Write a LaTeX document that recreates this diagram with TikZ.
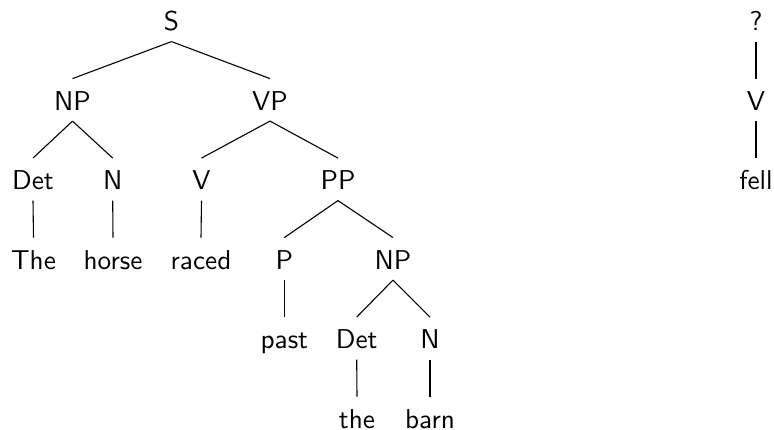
\documentclass[tikz,border=0pt]{standalone}
\begin{document}
\begin{tikzpicture}[x=0.367pt,y=-0.367pt,
  lab/.style={anchor=base,inner sep=0pt,text height=11.4pt,text depth=3.8pt,font=\sffamily},
  edge/.style={draw=black,line width=0.4pt}]
\useasboundingbox (0,0) rectangle (774,430);
% left tree
\node[lab] (S) at (171.5,30.7) {S};
\node[lab] (NPa) at (72.5,110.2) {NP};
\node[lab] (VP) at (270,110.2) {VP};
\node[lab] (Deta) at (33,189.7) {Det};
\node[lab] (Na) at (112.7,189.7) {N};
\node[lab] (Va) at (201.5,189.7) {V};
\node[lab] (PP) at (338,189.7) {PP};
\node[lab] (The) at (33.5,269.2) {The};
\node[lab] (horse) at (113,269.2) {horse};
\node[lab] (raced) at (201,269.2) {raced};
\node[lab] (P) at (284.3,269.2) {P};
\node[lab] (NPb) at (393,269.2) {NP};
\node[lab] (past) at (284.3,348.7) {past};
\node[lab] (Detb) at (356.7,348.7) {Det};
\node[lab] (Nb) at (430,348.7) {N};
\node[lab] (the) at (357,428.2) {the};
\node[lab] (barn) at (430,428.2) {barn};
% right tree
\node[lab] (Q) at (756,30.7) {?};
\node[lab] (Vb) at (756,110.2) {V};
\node[lab] (fell) at (756,189.7) {fell};
% edges
\draw[edge] (S.south) -- (NPa.north);
\draw[edge] (S.south) -- (VP.north);
\draw[edge] (NPa.south) -- (Deta.north);
\draw[edge] (NPa.south) -- (Na.north);
\draw[edge] (VP.south) -- (Va.north);
\draw[edge] (VP.south) -- (PP.north);
\draw[edge] (Deta.south) -- (The.north);
\draw[edge] (Na.south) -- (horse.north);
\draw[edge] (Va.south) -- (raced.north);
\draw[edge] (PP.south) -- (P.north);
\draw[edge] (PP.south) -- (NPb.north);
\draw[edge] (P.south) -- (past.north);
\draw[edge] (NPb.south) -- (Detb.north);
\draw[edge] (NPb.south) -- (Nb.north);
\draw[edge] (Detb.south) -- (the.north);
\draw[edge] (Nb.south) -- (barn.north);
\draw[edge] (Q.south) -- (Vb.north);
\draw[edge] (Vb.south) -- (fell.north);
\end{tikzpicture}
\end{document}
